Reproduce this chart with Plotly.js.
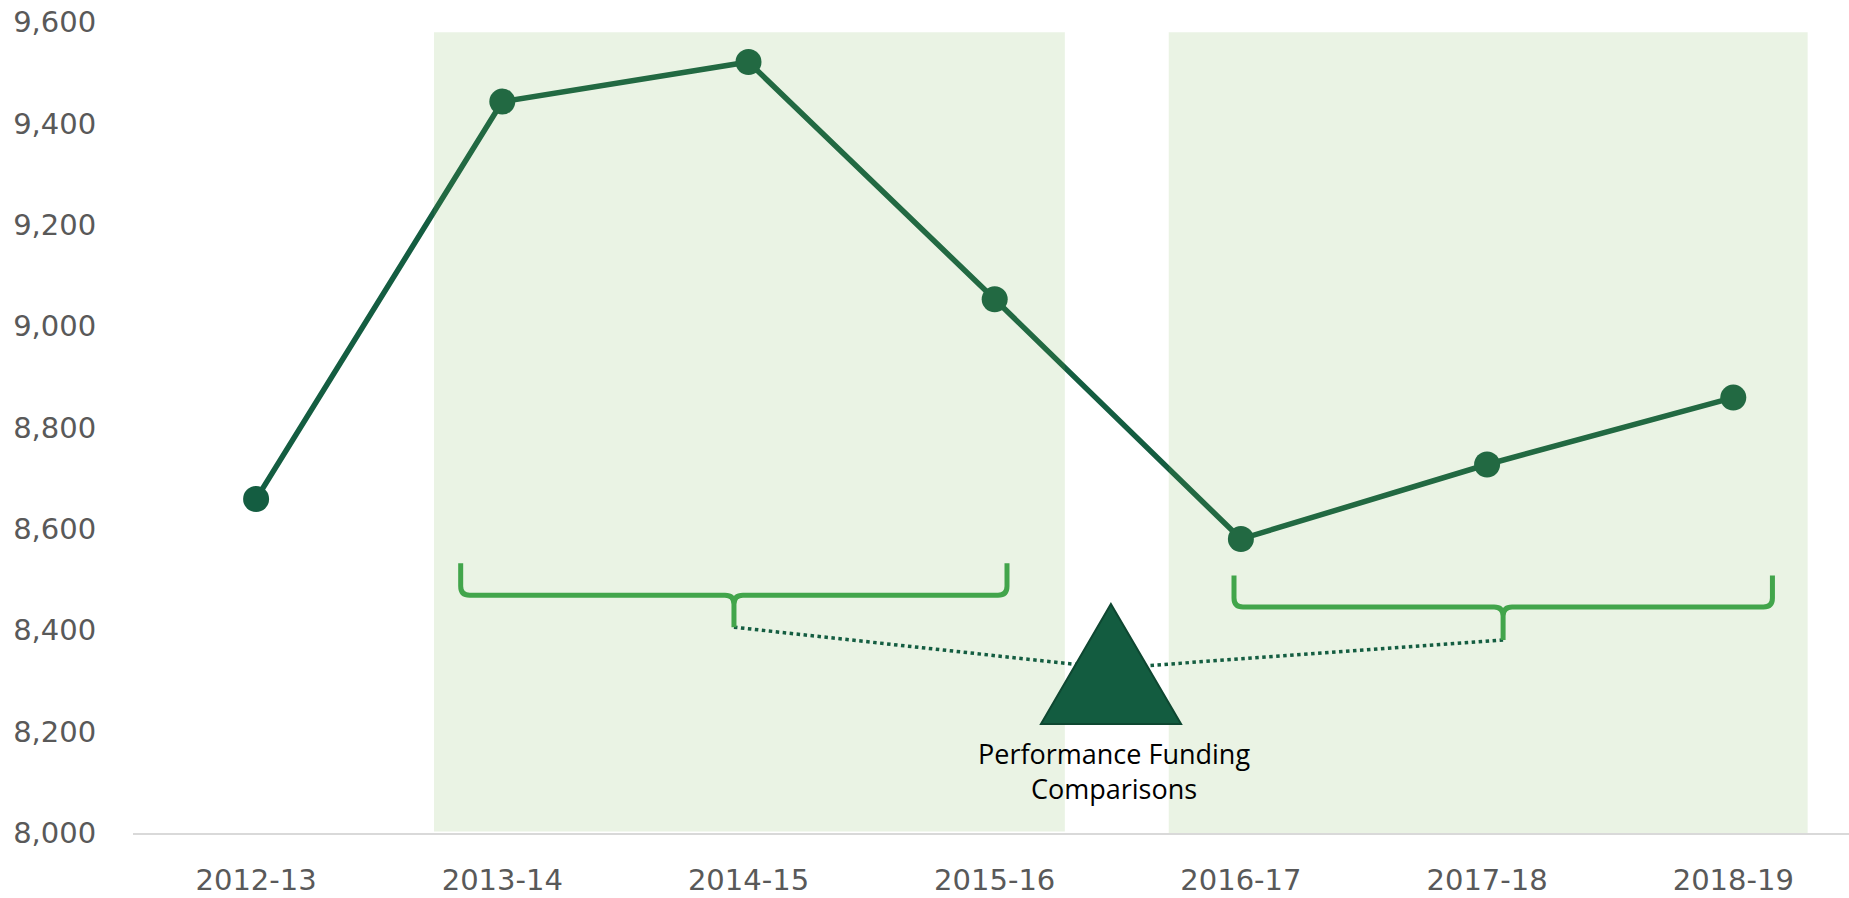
<!DOCTYPE html>
<html>
<head>
<meta charset="utf-8">
<script src="https://cdn.plot.ly/plotly-3.0.1.min.js"></script>
<style>
html,body{margin:0;padding:0;overflow:hidden;background:#fff;}
#chart{width:1849px;height:898px;}
</style>
</head>
<body>
<div id="chart"></div>
<script>
// ---- data ----
var years = ["2012-13", "2013-14", "2014-15", "2015-16", "2016-17", "2017-18", "2018-19"];
var values = [8659, 9443, 9521, 9053, 8580, 8727, 8859];
var yTicks = [8000, 8200, 8400, 8600, 8800, 9000, 9200, 9400, 9600];
var noteText = "Performance Funding<br>Comparisons";

// ---- decoration helpers (positions in axis units of the overlay axis x2 / y) ----
var PX = 1 / 246.2;   // one pixel in x index units
var PY = 1.9724;      // one pixel in y value units

function bracePath(xl, xr, xm, yTop, yMid, yTip) {
  var rx = 9 * PX, ry = 9 * PY;
  return "M " + xl + "," + yTop +
    " L " + xl + "," + (yMid + ry) +
    " Q " + xl + "," + yMid + " " + (xl + rx) + "," + yMid +
    " L " + (xm - rx) + "," + yMid +
    " Q " + xm + "," + yMid + " " + xm + "," + (yMid - ry) +
    " L " + xm + "," + yTip +
    " M " + xm + "," + (yMid - ry) +
    " Q " + xm + "," + yMid + " " + (xm + rx) + "," + yMid +
    " L " + (xr - rx) + "," + yMid +
    " Q " + xr + "," + yMid + " " + xr + "," + (yMid + ry) +
    " L " + xr + "," + yTop;
}

var band = "rgba(112,173,71,0.15)";
var dark = "#145d41";
var braceCol = "#42a54b";

var meet = {x: 3.472, y: 8325};
var b1 = {xl: 0.831, xr: 3.05, xm: 1.941, yTop: 8532, yMid: 8469, yTip: 8406};
var b2 = {xl: 3.972, xr: 6.159, xm: 5.065, yTop: 8508, yMid: 8446, yTip: 8381};

var shapes = [
  {type: "rect", xref: "x2", yref: "y", x0: 0.7226, x1: 3.285, y0: 8003, y1: 9580,
   fillcolor: band, line: {width: 0}, layer: "above"},
  {type: "rect", xref: "x2", yref: "y", x0: 3.707, x1: 6.302, y0: 8000, y1: 9580,
   fillcolor: band, line: {width: 0}, layer: "above"},
  {type: "line", xref: "x2", yref: "y", x0: b1.xm, y0: b1.yTip, x1: meet.x, y1: meet.y,
   line: {color: dark, width: 3.5, dash: "dot"}, layer: "above"},
  {type: "line", xref: "x2", yref: "y", x0: b2.xm, y0: b2.yTip, x1: meet.x, y1: meet.y,
   line: {color: dark, width: 3.5, dash: "dot"}, layer: "above"},
  {type: "path", xref: "x2", yref: "y", path: bracePath(b1.xl, b1.xr, b1.xm, b1.yTop, b1.yMid, b1.yTip),
   line: {color: braceCol, width: 5}, layer: "above"},
  {type: "path", xref: "x2", yref: "y", path: bracePath(b2.xl, b2.xr, b2.xm, b2.yTop, b2.yMid, b2.yTip),
   line: {color: braceCol, width: 5}, layer: "above"},
  {type: "path", xref: "x2", yref: "y",
   path: "M 3.472,8452 L 3.757,8215 L 3.188,8215 Z",
   fillcolor: "#135c40", line: {color: "#0e4731", width: 2}, layer: "above"}
];

var trace = {
  x: years,
  y: values,
  type: "scatter",
  mode: "lines+markers",
  line: {color: dark, width: 5.5},
  marker: {color: dark, size: 26},
  hoverinfo: "x+y",
  showlegend: false
};

var layout = {
  width: 1849,
  height: 898,
  margin: {l: 133, r: 0, t: 22, b: 65, pad: 0},
  paper_bgcolor: "#ffffff",
  plot_bgcolor: "#ffffff",
  showlegend: false,
  xaxis: {
    type: "category",
    range: [-0.5, 6.47],
    showgrid: false,
    zeroline: false,
    showline: true,
    linecolor: "#d9d9d9",
    linewidth: 2,
    ticks: "outside",
    ticklen: 20,
    tickcolor: "rgba(0,0,0,0)",
    tickfont: {family: "DejaVu Sans", size: 29, color: "#595959"}
  },
  xaxis2: {
    type: "linear",
    overlaying: "x",
    range: [-0.5, 6.47],
    visible: false
  },
  yaxis: {
    range: [8000, 9600],
    tickvals: yTicks,
    tickformat: ",d",
    showgrid: false,
    zeroline: false,
    showline: false,
    ticks: "outside",
    ticklen: 30,
    tickcolor: "rgba(0,0,0,0)",
    tickfont: {family: "DejaVu Sans", size: 29, color: "#595959"}
  },
  shapes: shapes,
  annotations: [{
    xref: "x2", yref: "y", x: 3.484, y: 8123,
    text: noteText, showarrow: false,
    xanchor: "center", yanchor: "middle", align: "center",
    font: {family: "Open Sans", size: 27, color: "#000000"}
  }]
};

// invisible trace to instantiate the overlay axis x2
var anchorTrace = {x: [0], y: [8000], xaxis: "x2", yaxis: "y", type: "scatter", mode: "markers",
  marker: {opacity: 0}, hoverinfo: "skip", showlegend: false};

Plotly.newPlot("chart", [trace, anchorTrace], layout, {displayModeBar: false, staticPlot: true});
</script>
</body>
</html>
